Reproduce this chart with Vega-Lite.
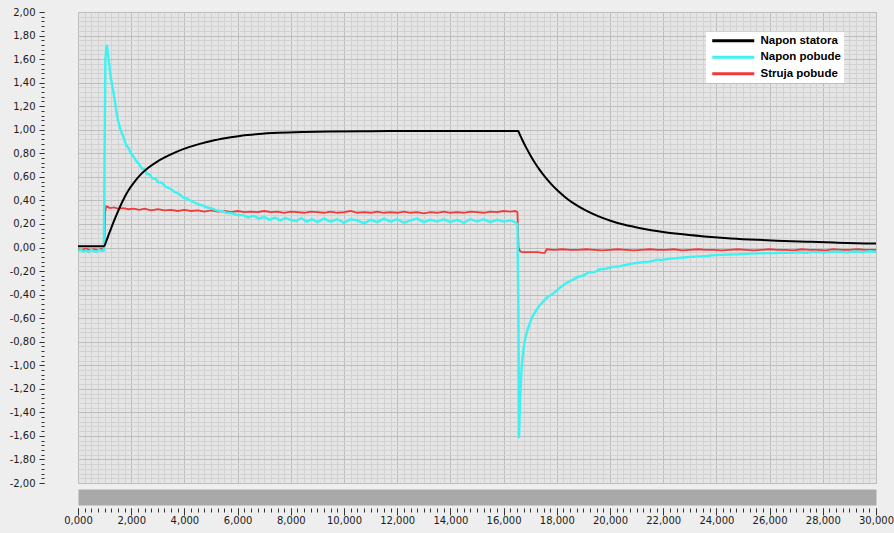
{
  "$schema": "https://vega.github.io/schema/vega-lite/v6.json",
  "width": 798,
  "height": 471,
  "autosize": "none",
  "padding": {"left": 78, "top": 12, "right": 18, "bottom": 50},
  "background": "#eeeeee",
  "config": {
    "locale": {"number": {"decimal": ",", "thousands": ".", "grouping": [3], "currency": ["", ""], "minus": "-"}},
    "view": {"fill": "#e5e5e5", "stroke": "#a8a8a8"},
    "axis": {"labelFont": "DejaVu Sans", "labelFontSize": 10, "labelColor": "#1a1a1a", "tickColor": "#333333", "labelOverlap": false, "labelFlush": false, "title": null}
  },
  "data": {"values": [
    {"s":"Struja pobude","x":0,"y":-0.015},{"s":"Struja pobude","x":0.15,"y":-0.02},{"s":"Struja pobude","x":0.3,"y":-0.01},{"s":"Struja pobude","x":0.45,"y":-0.02},{"s":"Struja pobude","x":0.6,"y":-0.015},{"s":"Struja pobude","x":0.75,"y":-0.02},{"s":"Struja pobude","x":0.9,"y":-0.01},{"s":"Struja pobude","x":0.98,"y":-0.015},
    {"s":"Struja pobude","x":1.02,"y":0.3},{"s":"Struja pobude","x":1.06,"y":0.35},{"s":"Struja pobude","x":1.12,"y":0.345},{"s":"Struja pobude","x":1.2,"y":0.335},{"s":"Struja pobude","x":1.35,"y":0.34},{"s":"Struja pobude","x":1.5,"y":0.33},{"s":"Struja pobude","x":1.7,"y":0.335},{"s":"Struja pobude","x":1.9,"y":0.325},{"s":"Struja pobude","x":2.1,"y":0.33},{"s":"Struja pobude","x":2.3,"y":0.32},{"s":"Struja pobude","x":2.5,"y":0.33},{"s":"Struja pobude","x":2.75,"y":0.315},{"s":"Struja pobude","x":3.0,"y":0.325},{"s":"Struja pobude","x":3.25,"y":0.315},{"s":"Struja pobude","x":3.5,"y":0.32},{"s":"Struja pobude","x":3.75,"y":0.31},{"s":"Struja pobude","x":4.0,"y":0.32},{"s":"Struja pobude","x":4.25,"y":0.31},{"s":"Struja pobude","x":4.5,"y":0.315},{"s":"Struja pobude","x":4.75,"y":0.305},{"s":"Struja pobude","x":5.0,"y":0.315},{"s":"Struja pobude","x":5.25,"y":0.305},{"s":"Struja pobude","x":5.5,"y":0.31},{"s":"Struja pobude","x":5.75,"y":0.3},{"s":"Struja pobude","x":6.0,"y":0.31},{"s":"Struja pobude","x":6.25,"y":0.3},{"s":"Struja pobude","x":6.5,"y":0.305},{"s":"Struja pobude","x":6.75,"y":0.3},{"s":"Struja pobude","x":7.0,"y":0.31},{"s":"Struja pobude","x":7.25,"y":0.3},{"s":"Struja pobude","x":7.5,"y":0.305},{"s":"Struja pobude","x":7.75,"y":0.295},{"s":"Struja pobude","x":8.0,"y":0.305},{"s":"Struja pobude","x":8.25,"y":0.3},{"s":"Struja pobude","x":8.5,"y":0.295},{"s":"Struja pobude","x":8.75,"y":0.305},{"s":"Struja pobude","x":9.0,"y":0.3},{"s":"Struja pobude","x":9.25,"y":0.295},{"s":"Struja pobude","x":9.5,"y":0.305},{"s":"Struja pobude","x":9.75,"y":0.295},{"s":"Struja pobude","x":10.0,"y":0.3},{"s":"Struja pobude","x":10.25,"y":0.31},{"s":"Struja pobude","x":10.5,"y":0.295},{"s":"Struja pobude","x":10.75,"y":0.3},{"s":"Struja pobude","x":11.0,"y":0.295},{"s":"Struja pobude","x":11.25,"y":0.305},{"s":"Struja pobude","x":11.5,"y":0.295},{"s":"Struja pobude","x":11.75,"y":0.3},{"s":"Struja pobude","x":12.0,"y":0.295},{"s":"Struja pobude","x":12.25,"y":0.305},{"s":"Struja pobude","x":12.5,"y":0.295},{"s":"Struja pobude","x":12.75,"y":0.3},{"s":"Struja pobude","x":13.0,"y":0.29},{"s":"Struja pobude","x":13.25,"y":0.3},{"s":"Struja pobude","x":13.5,"y":0.295},{"s":"Struja pobude","x":13.75,"y":0.305},{"s":"Struja pobude","x":14.0,"y":0.295},{"s":"Struja pobude","x":14.25,"y":0.3},{"s":"Struja pobude","x":14.5,"y":0.295},{"s":"Struja pobude","x":14.75,"y":0.305},{"s":"Struja pobude","x":15.0,"y":0.3},{"s":"Struja pobude","x":15.25,"y":0.295},{"s":"Struja pobude","x":15.5,"y":0.305},{"s":"Struja pobude","x":15.75,"y":0.3},{"s":"Struja pobude","x":16.0,"y":0.31},{"s":"Struja pobude","x":16.25,"y":0.305},{"s":"Struja pobude","x":16.45,"y":0.31},{"s":"Struja pobude","x":16.52,"y":0.3},
    {"s":"Struja pobude","x":16.56,"y":0.0},{"s":"Struja pobude","x":16.62,"y":-0.03},{"s":"Struja pobude","x":16.7,"y":-0.04},{"s":"Struja pobude","x":17.0,"y":-0.04},{"s":"Struja pobude","x":17.3,"y":-0.04},{"s":"Struja pobude","x":17.45,"y":-0.045},{"s":"Struja pobude","x":17.55,"y":-0.045},{"s":"Struja pobude","x":17.62,"y":-0.015},{"s":"Struja pobude","x":17.9,"y":-0.02},{"s":"Struja pobude","x":18.2,"y":-0.015},{"s":"Struja pobude","x":18.5,"y":-0.02},{"s":"Struja pobude","x":18.8,"y":-0.02},{"s":"Struja pobude","x":19.1,"y":-0.015},{"s":"Struja pobude","x":19.4,"y":-0.02},{"s":"Struja pobude","x":19.7,"y":-0.025},{"s":"Struja pobude","x":20.0,"y":-0.02},{"s":"Struja pobude","x":20.3,"y":-0.015},{"s":"Struja pobude","x":20.6,"y":-0.02},{"s":"Struja pobude","x":20.9,"y":-0.025},{"s":"Struja pobude","x":21.2,"y":-0.02},{"s":"Struja pobude","x":21.5,"y":-0.015},{"s":"Struja pobude","x":21.8,"y":-0.02},{"s":"Struja pobude","x":22.1,"y":-0.02},{"s":"Struja pobude","x":22.4,"y":-0.015},{"s":"Struja pobude","x":22.7,"y":-0.025},{"s":"Struja pobude","x":23.0,"y":-0.02},{"s":"Struja pobude","x":23.3,"y":-0.015},{"s":"Struja pobude","x":23.6,"y":-0.02},{"s":"Struja pobude","x":23.9,"y":-0.02},{"s":"Struja pobude","x":24.2,"y":-0.025},{"s":"Struja pobude","x":24.5,"y":-0.02},{"s":"Struja pobude","x":24.8,"y":-0.015},{"s":"Struja pobude","x":25.1,"y":-0.02},{"s":"Struja pobude","x":25.4,"y":-0.025},{"s":"Struja pobude","x":25.7,"y":-0.02},{"s":"Struja pobude","x":26.0,"y":-0.015},{"s":"Struja pobude","x":26.3,"y":-0.02},{"s":"Struja pobude","x":26.6,"y":-0.02},{"s":"Struja pobude","x":26.9,"y":-0.025},{"s":"Struja pobude","x":27.2,"y":-0.015},{"s":"Struja pobude","x":27.5,"y":-0.02},{"s":"Struja pobude","x":27.8,"y":-0.02},{"s":"Struja pobude","x":28.1,"y":-0.025},{"s":"Struja pobude","x":28.4,"y":-0.015},{"s":"Struja pobude","x":28.7,"y":-0.02},{"s":"Struja pobude","x":29.0,"y":-0.02},{"s":"Struja pobude","x":29.3,"y":-0.015},{"s":"Struja pobude","x":29.6,"y":-0.02},{"s":"Struja pobude","x":30,"y":-0.02},

    {"s":"Napon pobude","x":0,"y":-0.03},{"s":"Napon pobude","x":0.1,"y":-0.02},{"s":"Napon pobude","x":0.2,"y":-0.035},{"s":"Napon pobude","x":0.3,"y":-0.025},{"s":"Napon pobude","x":0.4,"y":-0.04},{"s":"Napon pobude","x":0.5,"y":-0.02},{"s":"Napon pobude","x":0.6,"y":-0.03},{"s":"Napon pobude","x":0.7,"y":-0.035},{"s":"Napon pobude","x":0.8,"y":-0.02},{"s":"Napon pobude","x":0.9,"y":-0.03},{"s":"Napon pobude","x":0.97,"y":-0.025},
    {"s":"Napon pobude","x":1.0,"y":0.8},{"s":"Napon pobude","x":1.03,"y":1.6},{"s":"Napon pobude","x":1.07,"y":1.72},{"s":"Napon pobude","x":1.1,"y":1.7},{"s":"Napon pobude","x":1.15,"y":1.6},{"s":"Napon pobude","x":1.2,"y":1.5},{"s":"Napon pobude","x":1.25,"y":1.42},{"s":"Napon pobude","x":1.3,"y":1.36},{"s":"Napon pobude","x":1.38,"y":1.25},{"s":"Napon pobude","x":1.44,"y":1.16},{"s":"Napon pobude","x":1.5,"y":1.08},{"s":"Napon pobude","x":1.6,"y":1.0},{"s":"Napon pobude","x":1.69,"y":0.95},{"s":"Napon pobude","x":1.8,"y":0.875},{"s":"Napon pobude","x":1.9,"y":0.845},{"s":"Napon pobude","x":2.0,"y":0.795},{"s":"Napon pobude","x":2.1,"y":0.77},{"s":"Napon pobude","x":2.2,"y":0.73},{"s":"Napon pobude","x":2.3,"y":0.71},{"s":"Napon pobude","x":2.4,"y":0.67},{"s":"Napon pobude","x":2.5,"y":0.665},{"s":"Napon pobude","x":2.6,"y":0.625},{"s":"Napon pobude","x":2.7,"y":0.62},{"s":"Napon pobude","x":2.8,"y":0.585},{"s":"Napon pobude","x":2.9,"y":0.59},{"s":"Napon pobude","x":3.0,"y":0.555},{"s":"Napon pobude","x":3.15,"y":0.55},{"s":"Napon pobude","x":3.3,"y":0.515},{"s":"Napon pobude","x":3.5,"y":0.495},{"s":"Napon pobude","x":3.65,"y":0.47},{"s":"Napon pobude","x":3.8,"y":0.455},{"s":"Napon pobude","x":3.95,"y":0.425},{"s":"Napon pobude","x":4.1,"y":0.415},{"s":"Napon pobude","x":4.25,"y":0.395},{"s":"Napon pobude","x":4.4,"y":0.38},{"s":"Napon pobude","x":4.55,"y":0.365},{"s":"Napon pobude","x":4.7,"y":0.355},{"s":"Napon pobude","x":4.85,"y":0.34},{"s":"Napon pobude","x":5.0,"y":0.335},{"s":"Napon pobude","x":5.2,"y":0.315},{"s":"Napon pobude","x":5.4,"y":0.31},{"s":"Napon pobude","x":5.6,"y":0.295},{"s":"Napon pobude","x":5.8,"y":0.29},{"s":"Napon pobude","x":6.0,"y":0.275},{"s":"Napon pobude","x":6.2,"y":0.275},{"s":"Napon pobude","x":6.4,"y":0.255},{"s":"Napon pobude","x":6.6,"y":0.27},{"s":"Napon pobude","x":6.8,"y":0.245},{"s":"Napon pobude","x":7.0,"y":0.26},{"s":"Napon pobude","x":7.2,"y":0.235},{"s":"Napon pobude","x":7.4,"y":0.255},{"s":"Napon pobude","x":7.6,"y":0.23},{"s":"Napon pobude","x":7.8,"y":0.25},{"s":"Napon pobude","x":8.0,"y":0.235},{"s":"Napon pobude","x":8.2,"y":0.225},{"s":"Napon pobude","x":8.4,"y":0.25},{"s":"Napon pobude","x":8.6,"y":0.22},{"s":"Napon pobude","x":8.8,"y":0.24},
    {"s":"Napon pobude","x":9.0,"y":0.215},{"s":"Napon pobude","x":9.25,"y":0.245},{"s":"Napon pobude","x":9.5,"y":0.22},{"s":"Napon pobude","x":9.75,"y":0.24},{"s":"Napon pobude","x":10.0,"y":0.21},{"s":"Napon pobude","x":10.25,"y":0.24},{"s":"Napon pobude","x":10.5,"y":0.23},{"s":"Napon pobude","x":10.75,"y":0.205},{"s":"Napon pobude","x":11.0,"y":0.235},{"s":"Napon pobude","x":11.25,"y":0.215},{"s":"Napon pobude","x":11.5,"y":0.245},{"s":"Napon pobude","x":11.75,"y":0.22},{"s":"Napon pobude","x":12.0,"y":0.24},{"s":"Napon pobude","x":12.25,"y":0.21},{"s":"Napon pobude","x":12.5,"y":0.23},{"s":"Napon pobude","x":12.75,"y":0.245},{"s":"Napon pobude","x":13.0,"y":0.215},{"s":"Napon pobude","x":13.25,"y":0.235},{"s":"Napon pobude","x":13.5,"y":0.22},{"s":"Napon pobude","x":13.75,"y":0.24},{"s":"Napon pobude","x":14.0,"y":0.215},{"s":"Napon pobude","x":14.25,"y":0.235},{"s":"Napon pobude","x":14.5,"y":0.21},{"s":"Napon pobude","x":14.75,"y":0.24},{"s":"Napon pobude","x":15.0,"y":0.22},{"s":"Napon pobude","x":15.25,"y":0.24},{"s":"Napon pobude","x":15.5,"y":0.215},{"s":"Napon pobude","x":15.75,"y":0.235},{"s":"Napon pobude","x":16.0,"y":0.22},{"s":"Napon pobude","x":16.25,"y":0.23},{"s":"Napon pobude","x":16.45,"y":0.215},{"s":"Napon pobude","x":16.52,"y":0.2},
    {"s":"Napon pobude","x":16.56,"y":-0.6},{"s":"Napon pobude","x":16.58,"y":-1.62},{"s":"Napon pobude","x":16.62,"y":-1.3},{"s":"Napon pobude","x":16.68,"y":-1.01},{"s":"Napon pobude","x":16.74,"y":-0.88},{"s":"Napon pobude","x":16.8,"y":-0.785},{"s":"Napon pobude","x":16.9,"y":-0.7},{"s":"Napon pobude","x":16.99,"y":-0.64},{"s":"Napon pobude","x":17.1,"y":-0.58},{"s":"Napon pobude","x":17.24,"y":-0.53},{"s":"Napon pobude","x":17.36,"y":-0.49},{"s":"Napon pobude","x":17.49,"y":-0.46},{"s":"Napon pobude","x":17.65,"y":-0.42},{"s":"Napon pobude","x":17.87,"y":-0.39},{"s":"Napon pobude","x":18.1,"y":-0.345},{"s":"Napon pobude","x":18.37,"y":-0.3},{"s":"Napon pobude","x":18.6,"y":-0.275},{"s":"Napon pobude","x":18.8,"y":-0.25},{"s":"Napon pobude","x":19.0,"y":-0.238},{"s":"Napon pobude","x":19.2,"y":-0.21},{"s":"Napon pobude","x":19.4,"y":-0.21},{"s":"Napon pobude","x":19.62,"y":-0.185},{"s":"Napon pobude","x":19.85,"y":-0.18},{"s":"Napon pobude","x":20.1,"y":-0.165},{"s":"Napon pobude","x":20.35,"y":-0.16},{"s":"Napon pobude","x":20.63,"y":-0.145},{"s":"Napon pobude","x":20.9,"y":-0.135},{"s":"Napon pobude","x":21.2,"y":-0.125},{"s":"Napon pobude","x":21.5,"y":-0.12},{"s":"Napon pobude","x":21.75,"y":-0.105},{"s":"Napon pobude","x":22.0,"y":-0.105},{"s":"Napon pobude","x":22.25,"y":-0.095},{"s":"Napon pobude","x":22.5,"y":-0.09},{"s":"Napon pobude","x":22.75,"y":-0.085},{"s":"Napon pobude","x":23.0,"y":-0.08},{"s":"Napon pobude","x":23.3,"y":-0.075},{"s":"Napon pobude","x":23.65,"y":-0.072},{"s":"Napon pobude","x":23.9,"y":-0.065},{"s":"Napon pobude","x":24.2,"y":-0.063},{"s":"Napon pobude","x":24.5,"y":-0.06},{"s":"Napon pobude","x":24.76,"y":-0.058},{"s":"Napon pobude","x":25.0,"y":-0.055},{"s":"Napon pobude","x":25.3,"y":-0.052},{"s":"Napon pobude","x":25.6,"y":-0.05},{"s":"Napon pobude","x":25.9,"y":-0.048},{"s":"Napon pobude","x":26.2,"y":-0.047},{"s":"Napon pobude","x":26.5,"y":-0.044},{"s":"Napon pobude","x":26.8,"y":-0.046},{"s":"Napon pobude","x":27.1,"y":-0.04},{"s":"Napon pobude","x":27.4,"y":-0.044},{"s":"Napon pobude","x":27.7,"y":-0.037},{"s":"Napon pobude","x":28.0,"y":-0.043},{"s":"Napon pobude","x":28.3,"y":-0.038},{"s":"Napon pobude","x":28.6,"y":-0.035},{"s":"Napon pobude","x":28.9,"y":-0.042},{"s":"Napon pobude","x":29.2,"y":-0.034},{"s":"Napon pobude","x":29.5,"y":-0.04},{"s":"Napon pobude","x":29.8,"y":-0.032},{"s":"Napon pobude","x":30,"y":-0.038},

    {"s":"Napon statora","x":0,"y":0.01},{"s":"Napon statora","x":0.98,"y":0.01},{"s":"Napon statora","x":1.05,"y":0.045},{"s":"Napon statora","x":1.13,"y":0.095},{"s":"Napon statora","x":1.25,"y":0.165},{"s":"Napon statora","x":1.38,"y":0.24},{"s":"Napon statora","x":1.5,"y":0.305},{"s":"Napon statora","x":1.68,"y":0.395},{"s":"Napon statora","x":1.88,"y":0.48},{"s":"Napon statora","x":2.13,"y":0.56},{"s":"Napon statora","x":2.38,"y":0.625},{"s":"Napon statora","x":2.63,"y":0.675},{"s":"Napon statora","x":2.98,"y":0.73},{"s":"Napon statora","x":3.26,"y":0.765},{"s":"Napon statora","x":3.68,"y":0.81},{"s":"Napon statora","x":4.14,"y":0.85},{"s":"Napon statora","x":4.58,"y":0.88},{"s":"Napon statora","x":5.01,"y":0.905},{"s":"Napon statora","x":5.58,"y":0.93},{"s":"Napon statora","x":6.14,"y":0.95},{"s":"Napon statora","x":6.78,"y":0.964},{"s":"Napon statora","x":7.52,"y":0.974},{"s":"Napon statora","x":8.48,"y":0.981},{"s":"Napon statora","x":9.5,"y":0.985},{"s":"Napon statora","x":11,"y":0.988},{"s":"Napon statora","x":13,"y":0.99},{"s":"Napon statora","x":16.55,"y":0.99},
    {"s":"Napon statora","x":16.6,"y":0.964},{"s":"Napon statora","x":16.65,"y":0.94},{"s":"Napon statora","x":16.75,"y":0.892},{"s":"Napon statora","x":16.85,"y":0.848},{"s":"Napon statora","x":17.0,"y":0.786},{"s":"Napon statora","x":17.15,"y":0.729},{"s":"Napon statora","x":17.35,"y":0.662},{"s":"Napon statora","x":17.55,"y":0.602},{"s":"Napon statora","x":17.8,"y":0.536},{"s":"Napon statora","x":18.05,"y":0.479},{"s":"Napon statora","x":18.35,"y":0.421},{"s":"Napon statora","x":18.65,"y":0.372},{"s":"Napon statora","x":19.05,"y":0.319},{"s":"Napon statora","x":19.55,"y":0.266},{"s":"Napon statora","x":20.05,"y":0.225},{"s":"Napon statora","x":20.55,"y":0.193},{"s":"Napon statora","x":21.05,"y":0.168},{"s":"Napon statora","x":21.55,"y":0.147},{"s":"Napon statora","x":22.55,"y":0.116},{"s":"Napon statora","x":23.55,"y":0.094},{"s":"Napon statora","x":24.55,"y":0.077},{"s":"Napon statora","x":25.55,"y":0.065},{"s":"Napon statora","x":26.55,"y":0.056},{"s":"Napon statora","x":27.55,"y":0.048},{"s":"Napon statora","x":28.55,"y":0.041},{"s":"Napon statora","x":30,"y":0.033}
  ]},
  "resolve": {"axis": {"x": "independent", "y": "independent"}, "scale": {"x": "shared", "y": "shared", "color": "shared"}},
  "layer": [
    {
      "transform": [{"filter": "datum.s == 'Struja pobude'"}],
      "mark": {"type": "line", "strokeWidth": 1.8, "interpolate": "linear"},
      "encoding": {
        "x": {"field": "x", "type": "quantitative", "scale": {"domain": [0, 30], "nice": false, "zero": false},
          "axis": {"orient": "bottom", "values": [0,0.25,0.5,0.75,1,1.25,1.5,1.75,2,2.25,2.5,2.75,3,3.25,3.5,3.75,4,4.25,4.5,4.75,5,5.25,5.5,5.75,6,6.25,6.5,6.75,7,7.25,7.5,7.75,8,8.25,8.5,8.75,9,9.25,9.5,9.75,10,10.25,10.5,10.75,11,11.25,11.5,11.75,12,12.25,12.5,12.75,13,13.25,13.5,13.75,14,14.25,14.5,14.75,15,15.25,15.5,15.75,16,16.25,16.5,16.75,17,17.25,17.5,17.75,18,18.25,18.5,18.75,19,19.25,19.5,19.75,20,20.25,20.5,20.75,21,21.25,21.5,21.75,22,22.25,22.5,22.75,23,23.25,23.5,23.75,24,24.25,24.5,24.75,25,25.25,25.5,25.75,26,26.25,26.5,26.75,27,27.25,27.5,27.75,28,28.25,28.5,28.75,29,29.25,29.5,29.75,30],
            "labels": false, "grid": true, "gridColor": "#d2d2d2", "gridWidth": 1, "ticks": true, "tickSize": 4, "domain": false, "offset": 25}},
        "y": {"field": "y", "type": "quantitative", "scale": {"domain": [-2, 2], "nice": false, "zero": false},
          "axis": {"orient": "left", "values": [-2,-1.96,-1.92,-1.88,-1.84,-1.8,-1.76,-1.72,-1.68,-1.64,-1.6,-1.56,-1.52,-1.48,-1.44,-1.4,-1.36,-1.32,-1.28,-1.24,-1.2,-1.16,-1.12,-1.08,-1.04,-1,-0.96,-0.92,-0.88,-0.84,-0.8,-0.76,-0.72,-0.68,-0.64,-0.6,-0.56,-0.52,-0.48,-0.44,-0.4,-0.36,-0.32,-0.28,-0.24,-0.2,-0.16,-0.12,-0.08,-0.04,0,0.04,0.08,0.12,0.16,0.2,0.24,0.28,0.32,0.36,0.4,0.44,0.48,0.52,0.56,0.6,0.64,0.68,0.72,0.76,0.8,0.84,0.88,0.92,0.96,1,1.04,1.08,1.12,1.16,1.2,1.24,1.28,1.32,1.36,1.4,1.44,1.48,1.52,1.56,1.6,1.64,1.68,1.72,1.76,1.8,1.84,1.88,1.92,1.96,2],
            "labels": false, "grid": true, "gridColor": "#d2d2d2", "gridWidth": 1, "ticks": true, "tickSize": 3, "domain": false, "offset": 34}},
        "color": {"field": "s", "type": "nominal",
          "scale": {"domain": ["Napon statora", "Napon pobude", "Struja pobude"], "range": ["#000000", "#3ff2f2", "#f03a3a"]},
          "legend": {"orient": "none", "legendX": 628, "legendY": 20, "title": null, "fillColor": "#ffffff", "padding": 3, "symbolType": "M-5.25,0H5.25", "symbolSize": 64, "symbolStrokeWidth": 3, "symbolOffset": 18.5, "labelOffset": 21.5, "labelFont": "Liberation Sans", "labelFontSize": 11.5, "labelFontWeight": "bold", "labelColor": "#000000", "rowPadding": 3.5}}
      }
    },
    {
      "transform": [{"filter": "datum.s == 'Napon pobude'"}],
      "mark": {"type": "line", "strokeWidth": 2.4, "interpolate": "linear"},
      "encoding": {
        "x": {"field": "x", "type": "quantitative",
          "axis": {"orient": "bottom", "values": [0,2,4,6,8,10,12,14,16,18,20,22,24,26,28,30], "format": ".3f", "grid": true, "gridColor": "#bdbdbd", "gridWidth": 1, "ticks": true, "tickSize": 7, "domain": false, "offset": 25, "labelPadding": 0}},
        "y": {"field": "y", "type": "quantitative",
          "axis": {"orient": "left", "values": [-2,-1.8,-1.6,-1.4,-1.2,-1,-0.8,-0.6,-0.4,-0.2,0,0.2,0.4,0.6,0.8,1,1.2,1.4,1.6,1.8,2], "format": ".2f", "grid": true, "gridColor": "#bdbdbd", "gridWidth": 1, "ticks": true, "tickSize": 5, "domain": false, "offset": 34, "labelPadding": 4}},
        "color": {"field": "s", "type": "nominal"}
      }
    },
    {
      "transform": [{"filter": "datum.s == 'Napon statora'"}],
      "mark": {"type": "line", "strokeWidth": 2, "interpolate": "monotone"},
      "encoding": {
        "x": {"field": "x", "type": "quantitative",
          "axis": {"orient": "bottom", "labels": false, "grid": false, "ticks": false, "domain": true, "domainColor": "#a9a9a9", "domainWidth": 16, "offset": 14}},
        "y": {"field": "y", "type": "quantitative", "axis": null},
        "color": {"field": "s", "type": "nominal"}
      }
    }
  ]
}
